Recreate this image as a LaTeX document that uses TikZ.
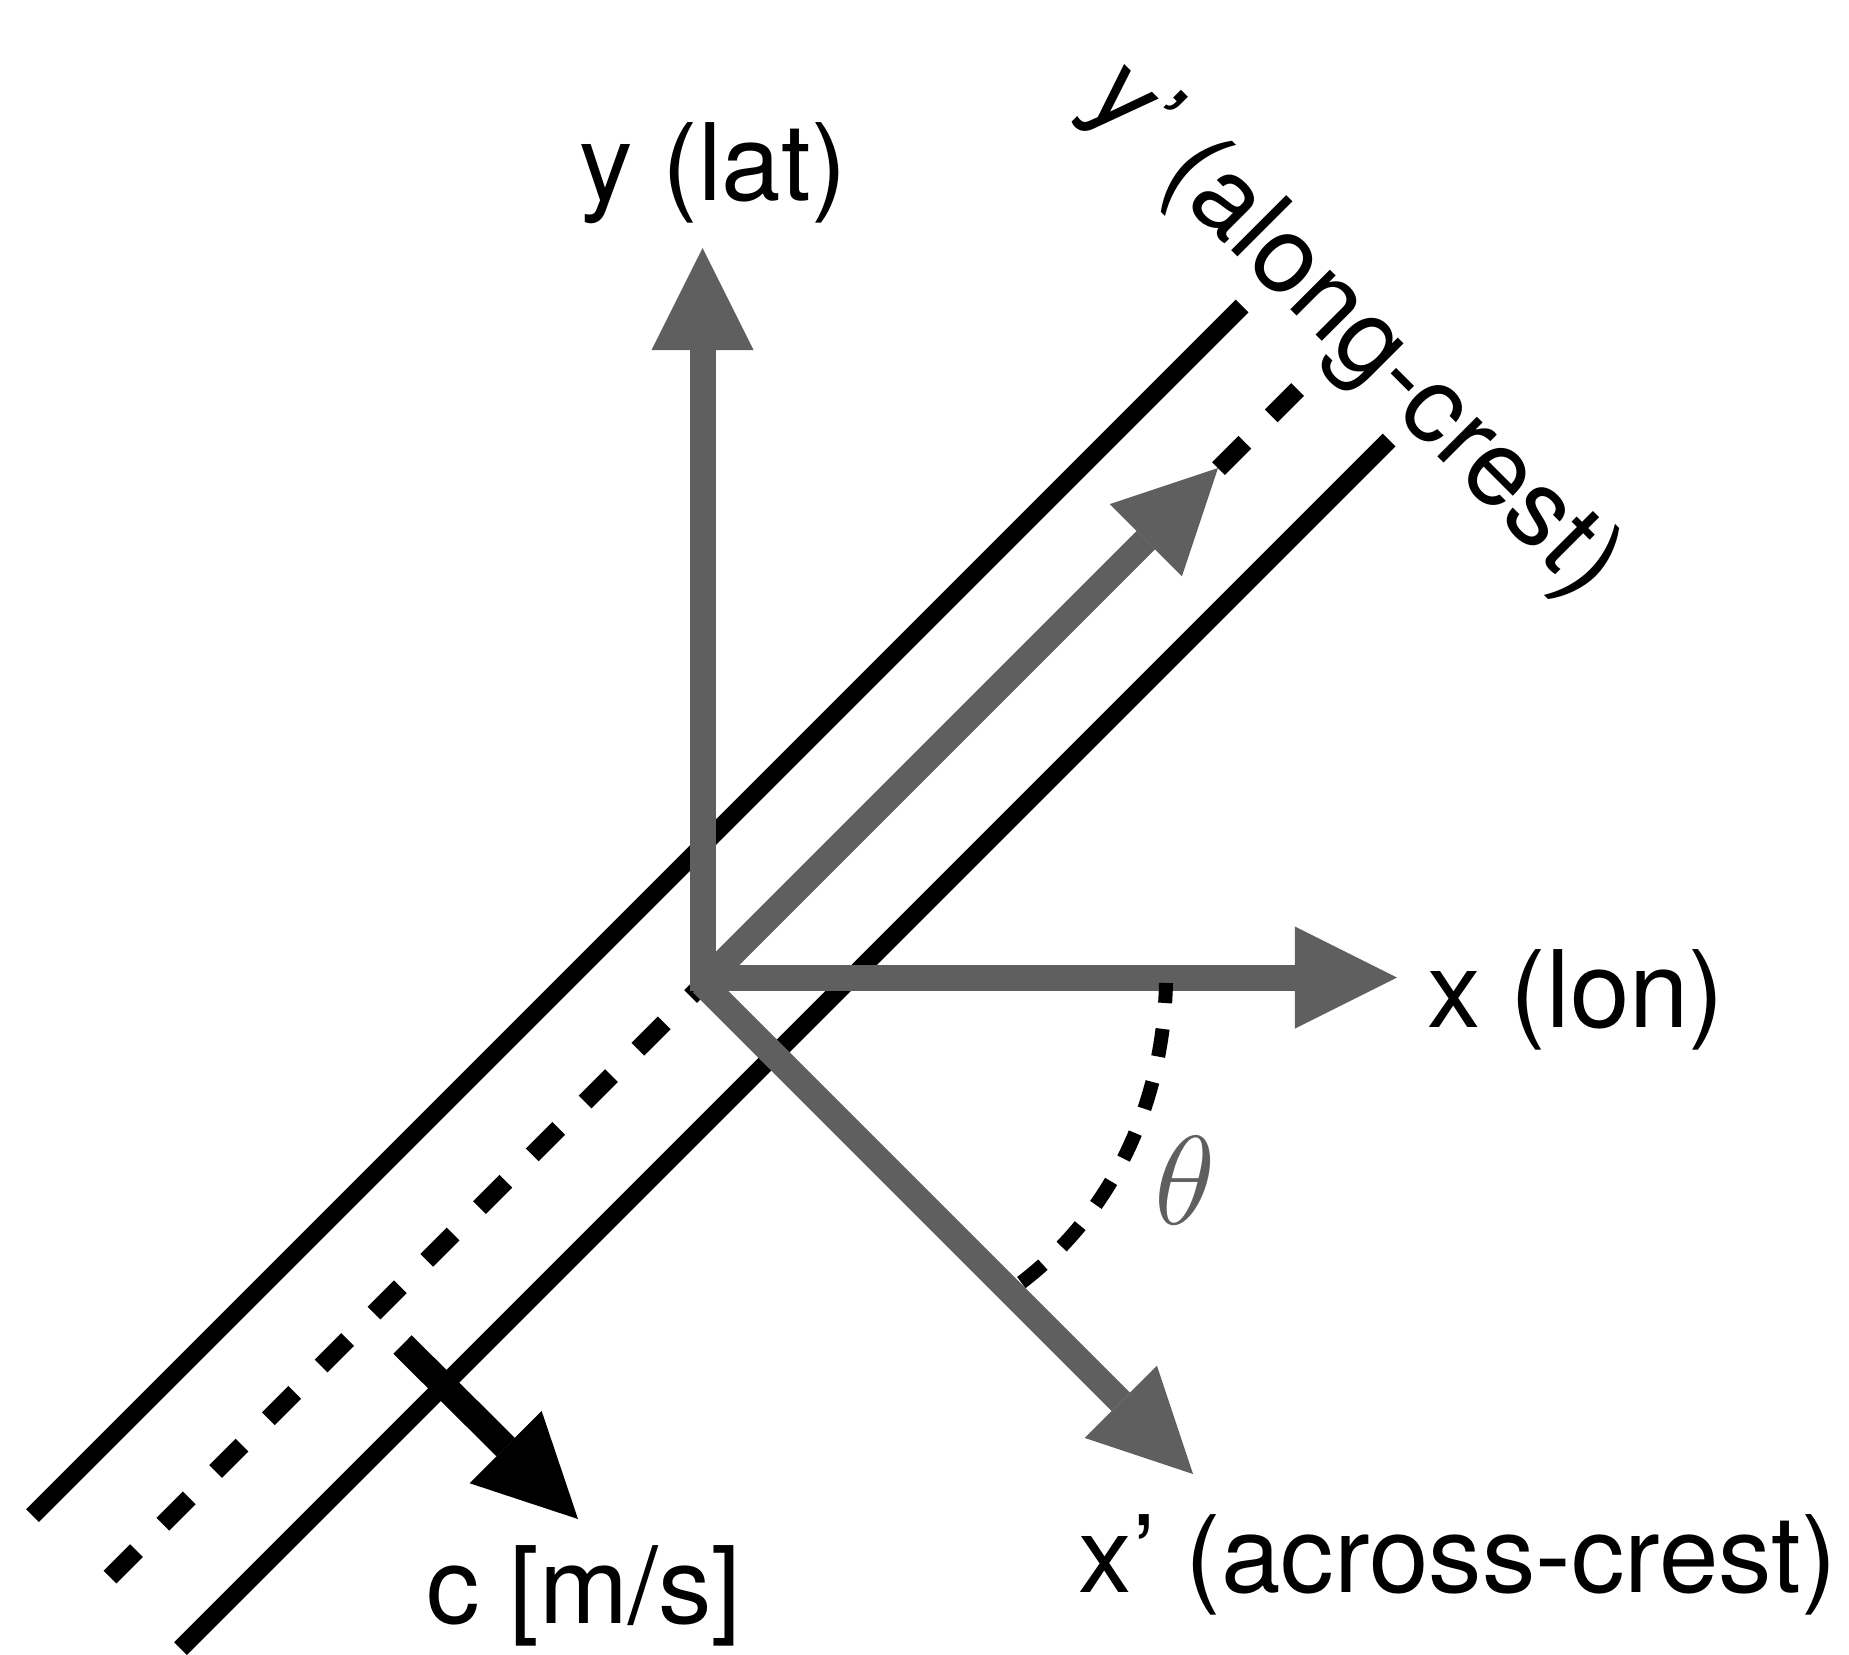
\documentclass[tikz,border=0pt]{standalone}
\usepackage{fontspec}
\setmainfont{TeX Gyre Heros}
\usetikzlibrary{arrows.meta}
\definecolor{axisgray}{RGB}{95,95,95}
\begin{document}
\begin{tikzpicture}[x=0.01cm, y=-0.01cm,
  crest/.style={line width=0.18cm, black},
  headtip/.style={-{Triangle[length=1.02cm, width=1.02cm, line width=0pt]}},
  axis/.style={line width=0.26cm, axisgray, headtip},
  lab/.style={font=\fontsize{30.4pt}{36pt}\selectfont, inner sep=0pt, anchor=base}]
\useasboundingbox (0,0) rectangle (1849,1654);
% crest lines
\coordinate (l1a) at (32.5,1515.5); \coordinate (l1b) at (1242,306);
\coordinate (l2a) at (180.5,1648.5); \coordinate (l2b) at (1389,440);
\coordinate (da) at (110,1577); \coordinate (db) at (1298,389);
\draw[crest] (l1a) -- (l1b);
\draw[crest] (l2a) -- (l2b);
\draw[crest, dash pattern=on 0.373cm off 0.373cm] (da) -- (db);
% phase speed arrow
\coordinate (c0) at (402.5,1344.5); \coordinate (c1) at (578,1519);
\draw[line width=0.26cm, black, headtip] (c0) -- (c1);
% axes
\coordinate (ys) at (702.5,991); \coordinate (yt) at (702.5,248);
\coordinate (xs) at (690,977.5); \coordinate (xt) at (1397,977.5);
\coordinate (yps) at (703,983); \coordinate (ypt) at (1218,468);
\coordinate (xps) at (702,983); \coordinate (xpt) at (1193,1474);
\draw[axis] (yps) -- (ypt);
\draw[axis] (xps) -- (xpt);
\draw[axis] (ys) -- (yt);
\draw[axis] (xs) -- (xt);
% angle
\coordinate (t0) at (1166,983); \coordinate (t1) at (1163,1110);
\coordinate (t2) at (1108,1218); \coordinate (t3) at (1018,1285);
\draw[line width=0.14cm, black, dash pattern=on 0.28cm off 0.26cm, dash phase=0.08cm]
  (t0) .. controls (t1) and (t2) .. (t3);
% labels
\node[lab] (ylab) at (713,200) {y (lat)};
\node[lab] (xlab) at (1576,1027) {x (lon)};
\node[lab] (xplab) at (1458,1592) {x’ (across-crest)};
\node[lab] (clab) at (584,1623) {c [m/s]};
\node[lab, rotate=-45] (yplab) at (1333,352) {y’ (along-crest)};
\node[inner sep=0pt, text=axisgray, font=\fontsize{24.88pt}{30pt}\selectfont, scale=1.447] (theta) at (1185,1181) {$\theta$};
\end{tikzpicture}
\end{document}
